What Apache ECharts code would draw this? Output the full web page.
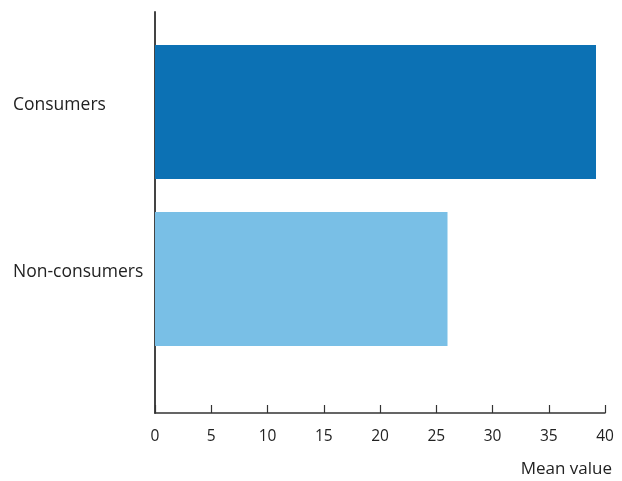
<!DOCTYPE html>
<html>
<head>
<meta charset="utf-8">
<script src="https://cdn.jsdelivr.net/npm/echarts@6/dist/echarts.min.js"></script>
<style>
  html, body { margin: 0; padding: 0; background: #fff; }
  #main { width: 622px; height: 481px; }
</style>
</head>
<body>
<div id="main"></div>
<script>
  // data
  var categories = ['Consumers', 'Non-consumers'];
  var meanValues = [39.2, 26.0];
  var barColors = ['#0c71b4', '#79bfe6'];
  var xTicks = { min: 0, max: 40, interval: 5 };

  var myChart = echarts.init(document.getElementById('main'));
  var font = '"Open Sans", sans-serif';

  var option = {
    animation: false,
    // grid 0 draws the axis frame, grid 1 holds the bars
    grid: [
      { left: 155, right: 17, top: 12, bottom: 68 },
      { left: 155, right: 17, top: 28.5, bottom: 118.5 }
    ],
    xAxis: [
      {
        gridIndex: 0,
        type: 'value',
        min: xTicks.min,
        max: xTicks.max,
        interval: xTicks.interval,
        name: 'Mean value',
        nameLocation: 'end',
        nameGap: 7,
        nameTextStyle: {
          fontFamily: font, fontSize: 17, color: '#222',
          align: 'right', verticalAlign: 'top', padding: [48, 0, 0, 0]
        },
        axisLine: { show: true, lineStyle: { color: '#333', width: 1.5 } },
        axisTick: { show: true, inside: true, length: 8, lineStyle: { color: '#333', width: 1.2 } },
        axisLabel: { fontFamily: font, fontSize: 15.5, color: '#222', margin: 16 },
        splitLine: { show: false }
      },
      {
        gridIndex: 1,
        type: 'value',
        min: xTicks.min,
        max: xTicks.max,
        show: false
      }
    ],
    yAxis: [
      {
        gridIndex: 0,
        type: 'value',
        min: 0,
        max: 1,
        axisLine: { show: true, lineStyle: { color: '#444', width: 2 } },
        axisTick: { show: false },
        axisLabel: { show: false },
        splitLine: { show: false }
      },
      {
        gridIndex: 1,
        type: 'category',
        inverse: true,
        data: categories,
        axisLine: { show: false },
        axisTick: { show: false },
        axisLabel: {
          fontFamily: font, fontSize: 17.5, color: '#222',
          align: 'left', margin: 142, verticalAlign: 'bottom', lineHeight: 14
        }
      }
    ],
    series: [
      {
        type: 'bar',
        xAxisIndex: 1,
        yAxisIndex: 1,
        barWidth: 134,
        data: meanValues.map(function (v, i) {
          return { value: v, itemStyle: { color: barColors[i] } };
        })
      }
    ]
  };

  myChart.setOption(option);
</script>
</body>
</html>
